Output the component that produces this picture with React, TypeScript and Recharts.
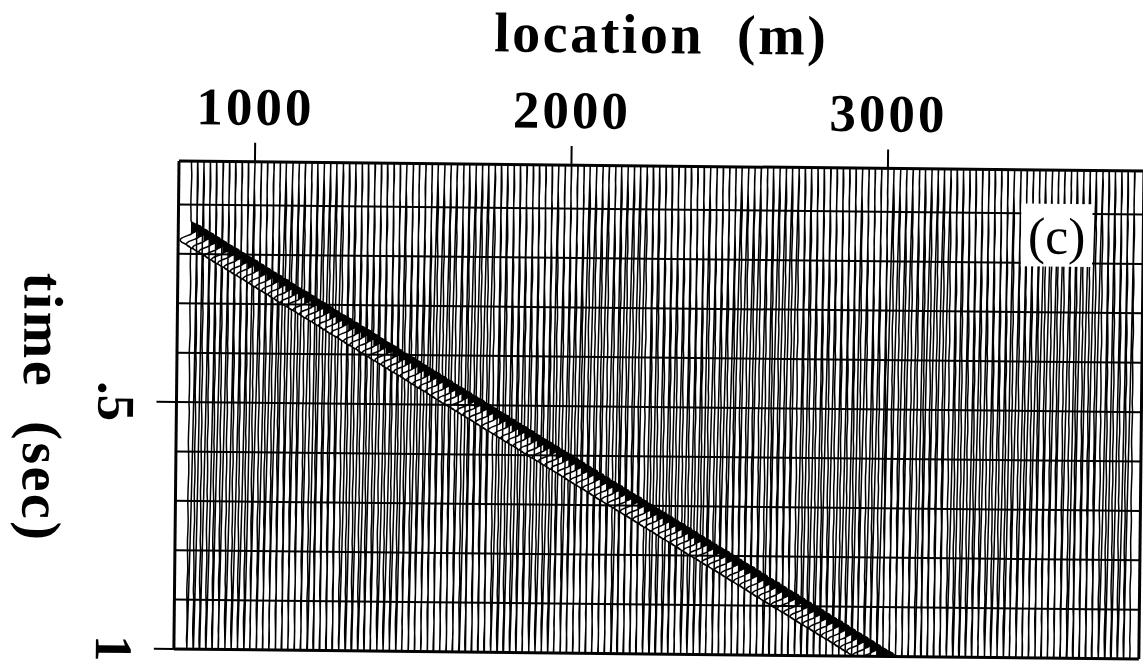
import React from 'react';
import { ComposedChart, Line, Area, XAxis, YAxis, ReferenceLine, ReferenceArea } from 'recharts';

// trace positions along the profile (m), one trace every 20 m
const traceLocations = Array.from({ length: 150 }, (_, i) => 800 + i * 20);

// picked arrival time (s) of the dipping event, trace by trace from the left
const eventTimes = [
  0.147, 0.155, 0.162, 0.17, 0.178, 0.186, 0.193, 0.201, 0.209, 0.216,
  0.224, 0.232, 0.24, 0.247, 0.255, 0.263, 0.271, 0.278, 0.286, 0.294,
  0.301, 0.309, 0.317, 0.325, 0.332, 0.34, 0.348, 0.355, 0.363, 0.371,
  0.379, 0.386, 0.394, 0.402, 0.409, 0.417, 0.425, 0.433, 0.44, 0.448,
  0.456, 0.464, 0.471, 0.479, 0.487, 0.494, 0.502, 0.51, 0.518, 0.525,
  0.533, 0.541, 0.548, 0.556, 0.564, 0.572, 0.579, 0.587, 0.595, 0.602,
  0.61, 0.618, 0.626, 0.633, 0.641, 0.649, 0.657, 0.664, 0.672, 0.68,
  0.687, 0.695, 0.703, 0.711, 0.718, 0.726, 0.734, 0.741, 0.749, 0.757,
  0.765, 0.772, 0.78, 0.788, 0.795, 0.803, 0.811, 0.819, 0.826, 0.834,
  0.842, 0.85, 0.857, 0.865, 0.873, 0.88, 0.888, 0.896, 0.904, 0.911,
  0.919, 0.927, 0.934, 0.942, 0.95, 0.958, 0.965, 0.973, 0.981, 0.989,
  0.996, 1.004, 1.012,
];

// event wavelet: offset from the pick (s) and relative amplitude
const waveletOffsets = [-0.014, -0.01, -0.006, -0.002, 0.002, 0.006, 0.01, 0.013, 0.017, 0.021, 0.025, 0.029, 0.033, 0.037, 0.041];
const waveletAmps = [0, 0.2, 0.6, 0.95, 0.95, 0.6, 0.2, 0, -0.45, -0.85, -1, -0.85, -0.5, -0.18, 0];
const lobeEnd = 0.013; // zero crossing after the black lobe
const eventPeak = 34; // trace deflection (m) at amplitude 1

// background jitter (m)
const quietWiggle = [0.5, -0.4, 0.9, 0.2, -0.7, -1.1, -0.2, 0.7, 1.2, 0.3, -0.5, -0.9, 0, 0.9, 0.4, -0.7, -0.3, 0.5, 1.1, -0.2, -1.1, -0.5, 0.3, 0.7];
const quietTimes = Array.from({ length: 53 }, (_, k) => k * 0.02);

const gridTimes = [0.1, 0.2, 0.3, 0.4, 0.5, 0.6, 0.7, 0.8, 0.9];
const locationTicks = [1000, 2000, 3000];
const timeTicks = [0.5, 1];
const timeTickLabels = ['.5', '1'];

const LOC_DOMAIN: [number, number] = [760, 3809];
const TIME_DOMAIN: [number, number] = [0.012, 1];
const SERIF = "'Liberation Serif', 'Times New Roman', serif";

// one long wiggle series, traces separated by null breaks
const wiggleData: { t: number; x: number | null }[] = [];
// positive lobes of the event, filled black
const fillData: { t: number; fill: [number, number] | null }[] = [];

traceLocations.forEach((loc, i) => {
  const te = i < eventTimes.length ? eventTimes[i] : null;
  const pts: { t: number; x: number | null }[] = [];
  quietTimes.forEach((t, k) => {
    if (te !== null && t > te - 0.022 && t < te + 0.049) return;
    pts.push({ t, x: loc + quietWiggle[(k + i * 5) % quietWiggle.length] });
  });
  if (te !== null) {
    waveletOffsets.forEach((o, k) => pts.push({ t: te + o, x: loc + waveletAmps[k] * eventPeak }));
    waveletOffsets.forEach((o, k) => {
      if (o <= lobeEnd) fillData.push({ t: te + o, fill: [loc, loc + waveletAmps[k] * eventPeak] });
    });
    fillData.push({ t: te + 0.02, fill: null });
  }
  pts.sort((a, b) => a.t - b.t);
  wiggleData.push(...pts, { t: 1.05, x: null });
});

const TopTick = ({ x, payload }: any) => (
  <text x={x} y={124} textAnchor="middle" fontFamily={SERIF} fontWeight="bold" fontSize={53} letterSpacing={3} fill="#000">
    {payload.value}
  </text>
);

const LeftTick = ({ y, payload }: any) => (
  <text
    transform={`translate(101, ${y}) rotate(90)`}
    textAnchor="middle"
    fontFamily={SERIF}
    fontWeight="bold"
    fontSize={53}
    fill="#000"
  >
    {timeTickLabels[timeTicks.indexOf(payload.value)]}
  </text>
);

export default function App() {
  return (
    <div style={{ position: 'absolute', left: 0, top: 0, width: 1143, height: 664, overflow: 'hidden', background: '#fff' }}>
      <div style={{ width: 1180, height: 664, transform: 'rotate(0.6deg)', transformOrigin: '179px 161px' }}>
        <ComposedChart layout="vertical" width={1180} height={664} margin={{ top: 0, right: 36, bottom: 15, left: 0 }}>
          <XAxis
            type="number"
            orientation="top"
            domain={LOC_DOMAIN}
            allowDataOverflow
            ticks={locationTicks}
            interval={0}
            height={161}
            tickSize={19}
            tickLine={{ stroke: '#000', strokeWidth: 2 }}
            axisLine={{ stroke: '#000', strokeWidth: 3 }}
            tick={TopTick}
            label={() => (
              <text x={660} y={48} textAnchor="middle" fontFamily={SERIF} fontWeight="bold" fontSize={56} letterSpacing={2.5} style={{ whiteSpace: 'pre' }} fill="#000">
                {'location  (m)'}
              </text>
            )}
          />
          <YAxis
            type="number"
            dataKey="t"
            domain={TIME_DOMAIN}
            allowDataOverflow
            ticks={timeTicks}
            interval={0}
            width={179}
            tickSize={20}
            tickLine={{ stroke: '#000', strokeWidth: 2 }}
            axisLine={{ stroke: '#000', strokeWidth: 3 }}
            tick={LeftTick}
            label={() => (
              <text
                transform="translate(26, 544) rotate(90)"
                textAnchor="end"
                fontFamily={SERIF}
                fontWeight="bold"
                fontSize={56}
                letterSpacing={2.5}
                style={{ whiteSpace: 'pre' }}
                fill="#000"
              >
                {'time  (sec)'}
              </text>
            )}
          />
          {gridTimes.map((t) => (
            <ReferenceLine key={t} y={t} stroke="#000" strokeWidth={2} />
          ))}
          <ReferenceLine y={1} stroke="#000" strokeWidth={3} />
          <ReferenceLine x={LOC_DOMAIN[1]} stroke="#000" strokeWidth={3} />
          <Area
            data={fillData}
            dataKey="fill"
            type="linear"
            fill="#000"
            fillOpacity={1}
            stroke="none"
            connectNulls={false}
            isAnimationActive={false}
          />
          <Line
            data={wiggleData}
            dataKey="x"
            type="monotone"
            stroke="#000"
            strokeWidth={1.5}
            dot={false}
            activeDot={false}
            connectNulls={false}
            isAnimationActive={false}
          />
          <ReferenceArea
            x1={3423}
            x2={3648}
            y1={0.08}
            y2={0.207}
            fill="#fff"
            fillOpacity={1}
            stroke="none"
            zIndex={1500}
            label={{ value: '(c)', position: 'center', fontSize: 52, fontFamily: SERIF, fill: '#000' }}
          />
        </ComposedChart>
      </div>
    </div>
  );
}
